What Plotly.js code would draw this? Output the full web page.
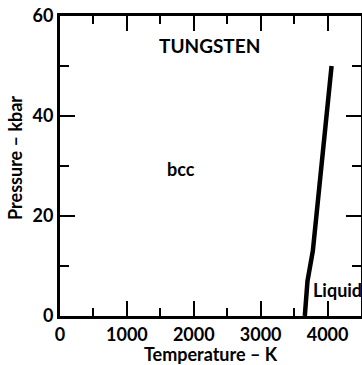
<!DOCTYPE html>
<html>
<head>
<meta charset="utf-8">
<script src="https://cdn.plot.ly/plotly-3.0.1.min.js"></script>
<style>html,body{margin:0;padding:0;background:#fff;}#chart{width:362px;height:365px;}</style>
</head>
<body>
<div id="chart"></div>
<script>
// Melting curve of tungsten
const temperatureK = [3660, 3700, 3780, 3880, 4060];
const pressureKbar = [0, 7, 13, 27, 50];
const xTickVals = [0, 1000, 2000, 3000, 4000];
const xTickText = ['0', '1000', '2000', '3000', '4000'];
const yTickVals = [0, 20, 40, 60];
const yTickText = ['0', '20', '40', '60'];

const FONT = 'Lato, "DejaVu Sans", sans-serif';

const trace = {
  x: temperatureK,
  y: pressureKbar,
  mode: 'lines',
  line: {color: '#000', width: 4.5},
  hoverinfo: 'skip',
  showlegend: false
};

const axisCommon = {
  showgrid: false,
  zeroline: false,
  showline: true,
  linecolor: '#000',
  linewidth: 3,
  mirror: 'ticks',
  ticks: 'inside',
  tickcolor: '#000',
  tickwidth: 2,
  ticklen: 15,
  tickfont: {family: FONT, size: 18, color: '#000', weight: 'bold'}
};

const layout = {
  width: 362,
  height: 365,
  margin: {l: 60, r: 1, t: 16, b: 49},
  paper_bgcolor: '#fff',
  plot_bgcolor: '#fff',
  xaxis: Object.assign({}, axisCommon, {
    range: [0, 4500],
    tickvals: xTickVals,
    ticktext: xTickText,
    minor: {dtick: 500, tick0: 0, ticks: 'inside', ticklen: 8, tickwidth: 2, tickcolor: '#000', showgrid: false},
    title: {text: 'Temperature – K', font: {family: FONT, size: 18, color: '#000', weight: 'bold'}, standoff: 8}
  }),
  yaxis: Object.assign({}, axisCommon, {
    range: [0, 60],
    tickvals: yTickVals,
    ticktext: yTickText,
    minor: {dtick: 10, tick0: 0, ticks: 'inside', ticklen: 9, tickwidth: 2, tickcolor: '#000', showgrid: false}
  }),
  annotations: [
    {x: -0.1495, y: 0.527, xref: 'paper', yref: 'paper', text: 'Pressure – kbar', showarrow: false,
     textangle: -90, xanchor: 'center', yanchor: 'middle',
     font: {family: FONT, size: 18, color: '#000', weight: 'bold'}},
    {x: 2240, y: 54.2, xref: 'x', yref: 'y', text: 'TUNGSTEN', showarrow: false,
     font: {family: FONT, size: 19, color: '#000', weight: 'bold'}},
    {x: 1810, y: 29.4, xref: 'x', yref: 'y', text: 'bcc', showarrow: false,
     font: {family: FONT, size: 18, color: '#000', weight: 'bold'}},
    {x: 3750, y: 5.2, xref: 'x', yref: 'y', text: 'Liquid', showarrow: false, xanchor: 'left',
     font: {family: FONT, size: 18, color: '#000', weight: 'bold'}}
  ]
};

Plotly.newPlot('chart', [trace], layout, {displayModeBar: false, staticPlot: true});
</script>
</body>
</html>
